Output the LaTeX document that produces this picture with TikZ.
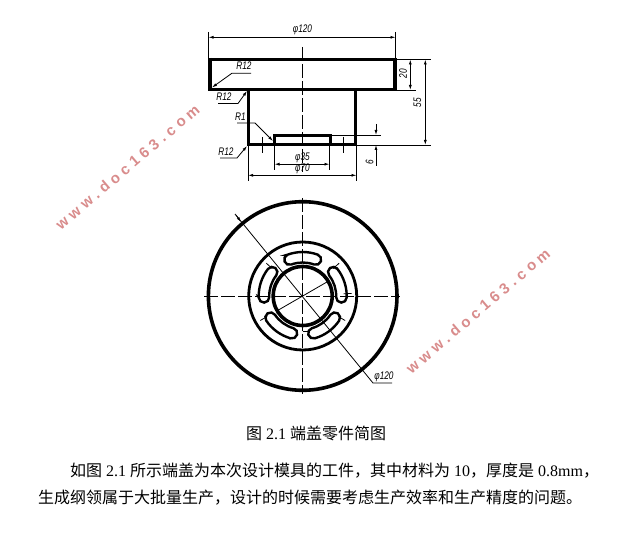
\documentclass[tikz,border=0pt]{standalone}
\usepackage{fontspec}
\usepackage{graphicx}
\usetikzlibrary{arrows.meta,calc}
\setmainfont{Liberation Serif}
\newfontfamily\cjk{Noto Sans CJK SC}
\newfontfamily\dimfont{Liberation Sans}
\newfontfamily\wmfont[LetterSpace=30]{Liberation Sans}
\newcommand{\dimtxt}[1]{\scalebox{.75}[1]{\dimfont\itshape\fontsize{11}{11}\selectfont #1}}
\tikzset{
  thick line/.style={line width=3pt,line cap=butt},
  thin line/.style={line width=.8pt},
  dim/.style={line width=.8pt,{Latex[length=5pt,width=3pt]}-{Latex[length=5pt,width=3pt]}},
  leader/.style={line width=.8pt,-{Latex[length=5pt,width=3pt]}},
  center line/.style={line width=.8pt,dash pattern=on 14pt off 3pt},
  dimlabel/.style={inner sep=0pt},
  wm/.style={inner sep=0pt,text=wmred,rotate=40.5,font=\wmfont\bfseries\fontsize{15}{15}\selectfont},
  body/.style={inner sep=0pt,anchor=base west,font=\fontsize{16}{16}\selectfont},
}
\definecolor{wmred}{HTML}{D98C8C}
\begin{document}
\begin{tikzpicture}[x=1pt,y=1pt,yscale=-1]
\useasboundingbox[fill=white] (0,0) rectangle (632,553);
% ---- front view
\draw[thick line] (209,59.5) rectangle (395,89.5);
\draw[line width=4.5pt] (210,58) -- (210,91);
\draw[line width=3.5pt] (394.5,58) -- (394.5,91);
\draw[line width=3.5pt] (248.5,89.5) -- (248.5,146);
\draw[thick line] (355.5,89.5) -- (355.5,146);
\draw[line width=3.5pt] (247,144.5) -- (274,144.5);
\draw[line width=3.5pt] (330,144.5) -- (357,144.5);
\draw[line width=3pt] (274,146) -- (274,135.5) -- (330,135.5) -- (330,146);
\draw[thick line] (274,144.5) -- (330,144.5);
\draw[center line] (302.7,47) -- (302.7,172);
\draw[thin line] (262,137) -- (262,153);
\draw[thin line] (343,137) -- (343,153);
% extension lines
\draw[thin line] (208.5,32) -- (208.5,59);
\draw[thin line] (395.5,32) -- (395.5,59);
\draw[thin line] (395,59.3) -- (431,59.3);
\draw[thin line] (395,90.3) -- (416,90.3);
\draw[thin line] (356,145) -- (431,145);
\draw[thin line] (330,135.2) -- (381,135.2);
\draw[thin line] (274.5,146) -- (274.5,170);
\draw[thin line] (329.5,146) -- (329.5,170);
\draw[thin line] (248,146) -- (248,181);
\draw[thin line] (356.5,146) -- (356.5,181);
% dimensions
\draw[dim] (208.5,37.3) -- (395.5,37.3);
\draw[dim] (410.3,59.5) -- (410.3,90);
\draw[dim] (425.3,59.5) -- (425.3,145);
\draw[dim] (274.5,164.2) -- (329.5,164.2);
\draw[dim] (248,175.3) -- (356.5,175.3);
\draw[thin line,-{Latex[length=5pt,width=3pt]}] (376,124) -- (376,135);
\draw[thin line,-{Latex[length=5pt,width=3pt]}] (376,166) -- (376,145);
\node[dimlabel] (t120) at (302.5,30) {\dimtxt{φ120}};
\node[dimlabel,rotate=90] (t20) at (403,74) {\dimtxt{20}};
\node[dimlabel,rotate=90] (t55) at (417.5,103) {\dimtxt{55}};
\node[dimlabel,rotate=90] (t6) at (369.5,162) {\dimtxt{6}};
\node[dimlabel] (t35) at (302.5,158) {\dimtxt{φ35}};
\node[dimlabel] (t70) at (302.5,169) {\dimtxt{φ70}};
\node[dimlabel] (r1) at (244,66) {\dimtxt{R12}};
\node[dimlabel] (r2) at (224,97) {\dimtxt{R12}};
\node[dimlabel] (r3) at (240.5,117) {\dimtxt{R1}};
\node[dimlabel] (r4) at (226,152) {\dimtxt{R12}};
\draw[leader] (251,73.2) -- (232,73.2) -- (212,87.5);
\draw[leader] (218,103.5) -- (238,103.5) -- (247,91);
\draw[leader] (237,123) -- (255,123) -- (273,141);
\draw[leader] (220,158) -- (237,158) -- (247,146);
% ---- top view
\coordinate (c) at (302.7,296);
\draw[center line] (204,296) -- (400,296);
\draw[center line] (302.7,198) -- (302.7,394);
\draw[line width=3.6pt] (c) circle (94.3);
\draw[line width=2.8pt] (c) circle (54);
\draw[line width=3.6pt] (c) circle (29.5);
\foreach \a in {-90,-162,-234,-306,-18}{
  \draw[line width=2.4pt] ($(c)+({\a-20}:44)$)
     arc ({\a-20}:{\a+20}:44)
     arc ({\a+20}:{\a+200}:5.25)
     arc ({\a+20}:{\a-20}:33.5)
     arc ({\a+160}:{\a+340}:5.25) -- cycle;
}
% thin construction lines
\draw[thin line] ($(c)+(-30:29)$) -- ($(c)+(150:29)$);
\foreach \a in {-42,-138,-210,-330,-3}{
  \draw[thin line] ($(c)+(\a:41)$) -- ($(c)+(\a:49)$);
}
\draw[thin line] ($(c)+(0,35)$) -- ++(6,0);
% diameter leader
\coordinate (lf) at (392,383);
\coordinate (lk) at (373,383);
\coordinate (lt) at (235,214);
\draw[thin line] (lf) -- (lk) -- (lt);
\draw[line width=.8pt,{Latex[length=5pt,width=3pt]}-] (241,222) -- (236,215);
\node[dimlabel] (t120b) at (384,376.5) {\dimtxt{φ120}};
% ---- watermarks
\node[wm] (w1) at (127.5,167) {www.doc163.com};
\node[wm] (w2) at (478,311) {www.doc163.com};
% ---- text
\node[body] (cap) at (246,439) {{\cjk 图} 2.1 {\cjk 端盖零件简图}};
\node[body] (l1) at (70,476) {{\cjk 如图} 2.1 {\cjk 所示端盖为本次设计模具的工件，其中材料为} 10{\cjk ，厚度是} 0.8mm{\cjk ，}};
\node[body] (l2) at (38,503) {{\cjk 生成纲领属于大批量生产，设计的时候需要考虑生产效率和生产精度的问题。}};
\end{tikzpicture}
\end{document}
